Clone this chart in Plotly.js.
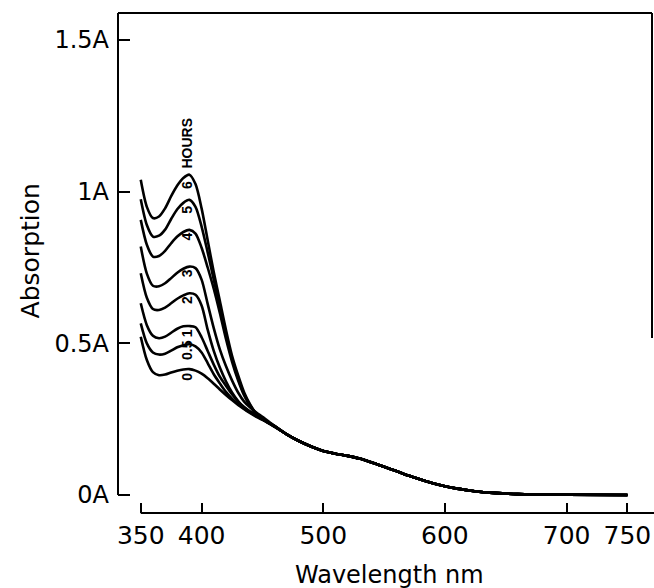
<!DOCTYPE html>
<html>
<head>
<meta charset="utf-8">
<script src="https://cdn.plot.ly/plotly-3.0.1.min.js"></script>
<style>html,body{margin:0;padding:0;background:#fff;}#chart{width:654px;height:588px;}</style>
</head>
<body>
<div id="chart"></div>
<script>
// Wavelengths (nm) for the Soret-region part of each curve
var wlPeak = [350,355,360,365,370,375,380,385,390,395,400,405,410,415,420,425,430,435,440,445,450,460];
// Common long-wavelength tail shared by all curves
var wlTail = [470,480,490,500,510,520,530,540,550,560,570,580,590,600,610,620,630,640,660,680,700,750];
var tail   = [0.200,0.178,0.160,0.145,0.136,0.129,0.120,0.107,0.093,0.079,0.064,0.051,0.039,0.029,0.021,0.015,0.010,0.007,0.003,0.002,0.001,0.000];

// Absorption (A) per incubation time
var h0   = [0.522,0.445,0.405,0.395,0.397,0.404,0.410,0.414,0.415,0.410,0.400,0.385,0.367,0.348,0.330,0.313,0.297,0.283,0.270,0.258,0.248,0.225];
var h05  = [0.566,0.500,0.470,0.463,0.466,0.476,0.487,0.494,0.497,0.490,0.470,0.435,0.398,0.368,0.340,0.318,0.300,0.285,0.272,0.260,0.250,0.225];
var h1   = [0.632,0.560,0.525,0.517,0.522,0.535,0.548,0.556,0.557,0.553,0.520,0.475,0.430,0.390,0.360,0.332,0.308,0.290,0.275,0.262,0.250,0.226];
var h2   = [0.731,0.650,0.613,0.610,0.618,0.632,0.647,0.658,0.665,0.660,0.625,0.545,0.475,0.420,0.375,0.338,0.310,0.288,0.273,0.262,0.252,0.226];
var h3   = [0.819,0.730,0.690,0.688,0.698,0.715,0.733,0.746,0.753,0.748,0.710,0.630,0.550,0.480,0.425,0.378,0.338,0.308,0.288,0.272,0.258,0.228];
var h4   = [0.907,0.825,0.786,0.788,0.805,0.830,0.852,0.867,0.874,0.862,0.815,0.750,0.680,0.600,0.515,0.440,0.378,0.328,0.292,0.266,0.250,0.226];
var h5   = [0.975,0.890,0.852,0.855,0.875,0.910,0.942,0.963,0.973,0.950,0.885,0.800,0.710,0.620,0.530,0.450,0.385,0.332,0.295,0.267,0.251,0.227];
var h6   = [1.039,0.950,0.913,0.918,0.945,0.985,1.020,1.045,1.056,1.025,0.945,0.840,0.735,0.640,0.545,0.460,0.395,0.338,0.298,0.268,0.252,0.227];

var seriesNames = ['0','0.5','1','2','3','4','5','6'];
var seriesVals  = [h0,h05,h1,h2,h3,h4,h5,h6];

// Labels placed on the curves (hours)
var labelText = ['0','0.5','1','2','3','4','5','6','HOURS'];
var labelY    = [0.390,0.478,0.533,0.643,0.731,0.852,0.940,1.022,1.162];
var labelX    = 388;

// Axis ticks and titles
var xTicks = [350,400,500,600,700,750];
var yTicks = [0,0.5,1,1.5];
var yTickText = ['0A','0.5A','1A','1.5A'];
var xTitle = 'Wavelength nm';
var yTitle = 'Absorption';

var xRange = [331.3, 770.2];
var yRange = [-0.0593, 1.589];

var wlAll = wlPeak.concat(wlTail);
var traces = seriesVals.map(function(v, i){
  return {
    x: wlAll,
    y: v.concat(tail),
    type: 'scatter',
    mode: 'lines',
    name: seriesNames[i] + ' h',
    line: {color: '#000', width: 2.6, shape: 'spline', smoothing: 0.8},
    hoverinfo: 'x+y+name'
  };
});

function px(v){ return (v - xRange[0]) / (xRange[1] - xRange[0]); }
function py(v){ return (v - yRange[0]) / (yRange[1] - yRange[0]); }

var annotations = labelText.map(function(t, i){
  return {
    x: labelX, y: labelY[i], xref: 'x', yref: 'y',
    text: t, showarrow: false, textangle: -90,
    xanchor: 'center', yanchor: 'middle',
    font: {family: 'Liberation Sans', size: 14, color: '#000', weight: 'bold'}
  };
});
annotations.push({
  x: -0.164, y: 0.524, xref: 'paper', yref: 'paper',
  text: yTitle, showarrow: false, textangle: -90,
  xanchor: 'center', yanchor: 'middle',
  font: {family: 'DejaVu Sans', size: 25, color: '#000'}
});
annotations.push({
  x: 0.509, y: -0.124, xref: 'paper', yref: 'paper',
  text: xTitle, showarrow: false,
  xanchor: 'center', yanchor: 'middle',
  font: {family: 'DejaVu Sans', size: 24, color: '#000'}
});

var shapes = [
  // x-axis baseline starting at the first tick
  {type:'line', xref:'paper', yref:'paper', x0: px(xTicks[0]), x1: 1.004, y0: 0, y1: 0, line:{color:'#000', width:2}},
  // y-axis line from 0A up to the top frame
  {type:'line', xref:'paper', yref:'paper', x0: 0, x1: 0, y0: py(0), y1: 1, line:{color:'#000', width:2}},
  // top frame
  {type:'line', xref:'paper', yref:'paper', x0: 0, x1: 1, y0: 1, y1: 1, line:{color:'#000', width:2}},
  // right frame (partial)
  {type:'line', xref:'paper', yref:'paper', x0: 1, x1: 1, y0: 1, y1: 0.35, line:{color:'#000', width:2}}
];

var layout = {
  width: 654, height: 588,
  margin: {l: 118, r: 2, t: 13, b: 75, pad: 0},
  paper_bgcolor: '#fff', plot_bgcolor: '#fff',
  showlegend: false,
  font: {family: 'DejaVu Sans', color: '#000'},
  xaxis: {
    range: xRange, tickvals: xTicks, ticktext: xTicks.map(String),
    ticks: 'inside', ticklen: 10, tickwidth: 2, tickcolor: '#000',
    showline: false, showgrid: false, zeroline: false,
    tickfont: {family: 'DejaVu Sans', size: 25, color: '#000'},
    ticklabelstandoff: 5,
    automargin: false, fixedrange: true
  },
  yaxis: {
    range: yRange, tickvals: yTicks, ticktext: yTickText,
    ticks: 'inside', ticklen: 12, tickwidth: 2, tickcolor: '#000',
    showline: false, showgrid: false, zeroline: false,
    tickfont: {family: 'DejaVu Sans', size: 24, color: '#000'},
    ticklabelstandoff: 8,
    automargin: false, fixedrange: true
  },
  shapes: shapes,
  annotations: annotations
};

Plotly.newPlot('chart', traces, layout, {displayModeBar: false, staticPlot: true});
</script>
</body>
</html>
